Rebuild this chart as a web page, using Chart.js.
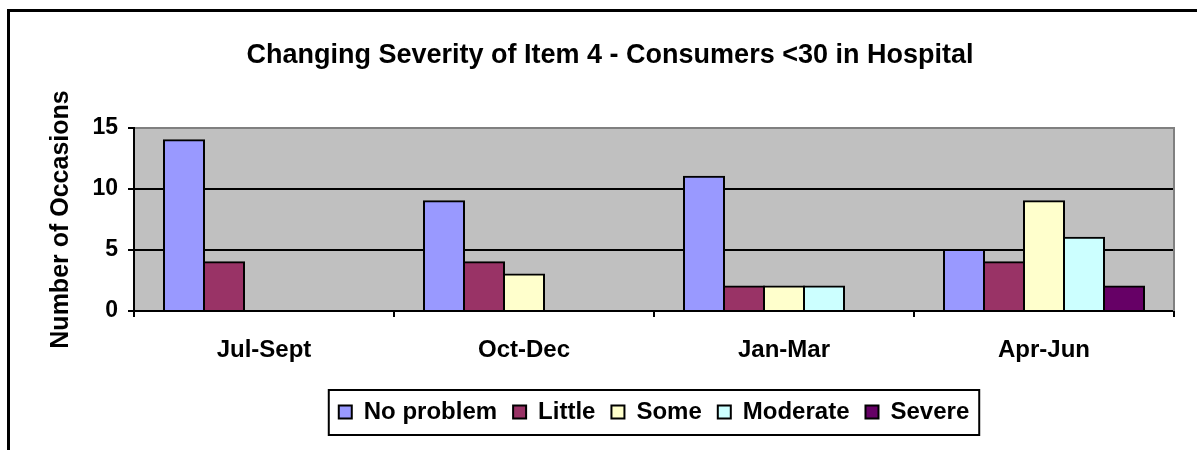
<!DOCTYPE html>
<html>
<head>
<meta charset="utf-8">
<script src="https://cdn.jsdelivr.net/npm/chart.js@4.4.1/dist/chart.umd.min.js"></script>
<style>
  html, body { margin: 0; padding: 0; background: #fff; }
  #wrap { width: 1197px; height: 450px; position: relative; }
</style>
</head>
<body>
<div id="wrap"><canvas id="myChart" width="1197" height="450"></canvas></div>
<script>
const quarters = ["Jul-Sept", "Oct-Dec", "Jan-Mar", "Apr-Jun"];
const noProblem = [14, 9, 11, 5];
const little = [4, 4, 2, 4];
const some = [0, 3, 2, 9];
const moderate = [0, 0, 2, 6];
const severe = [0, 0, 0, 2];
const yTicks = [0, 5, 10, 15];

const FONT = "'Liberation Sans', Arial, sans-serif";

function series(label, values, color) {
  return {
    label: label,
    data: values,
    backgroundColor: color,
    borderColor: "#000",
    borderWidth: 2,
    inflateAmount: 1,
    categoryPercentage: 200 / 260,
    barPercentage: 1
  };
}

// grey plot area, grey right edge, outer frame, legend frame
const excelLook = {
  id: "excelLook",
  beforeDraw(chart) {
    const {ctx, chartArea: a} = chart;
    ctx.save();
    ctx.fillStyle = "#C0C0C0";
    ctx.fillRect(a.left, a.top, a.right - a.left, a.bottom - a.top);
    ctx.restore();
  },
  beforeDatasetsDraw(chart) {
    const {ctx, chartArea: a} = chart;
    ctx.save();
    ctx.strokeStyle = "#808080";
    ctx.lineWidth = 2;
    ctx.beginPath();
    ctx.moveTo(a.right, a.top - 1);
    ctx.lineTo(a.right, a.bottom);
    ctx.stroke();
    ctx.restore();
  },
  afterDraw(chart) {
    const ctx = chart.ctx;
    ctx.save();
    ctx.strokeStyle = "#000";
    ctx.lineWidth = 3;
    ctx.strokeRect(8.5, 10.5, 1300, 600);
    const hb = chart.legend.legendHitBoxes;
    if (hb && hb.length) {
      const first = hb[0], last = hb[hb.length - 1];
      const cy = first.top + first.height / 2;
      ctx.lineWidth = 2;
      ctx.strokeRect(first.left - 10, cy - 22, (last.left + last.width + 10) - (first.left - 10), 45);
    }
    ctx.restore();
  }
};

new Chart(document.getElementById("myChart"), {
  type: "bar",
  data: {
    labels: quarters,
    datasets: [
      series("No problem", noProblem, "#9999FF"),
      series("Little", little, "#993366"),
      series("Some", some, "#FFFFCC"),
      series("Moderate", moderate, "#CCFFFF"),
      series("Severe", severe, "#660066")
    ]
  },
  options: {
    responsive: false,
    animation: false,
    layout: { padding: { left: 46, right: 23, top: 0, bottom: 16 } },
    plugins: {
      title: {
        display: true,
        text: "Changing Severity of Item 4 - Consumers <30 in Hospital",
        color: "#000",
        font: { family: FONT, size: 27, weight: "bold" },
        padding: { top: 39, bottom: 56.6 }
      },
      legend: {
        position: "bottom",
        fullSize: false,
        labels: {
          color: "#000",
          font: { family: FONT, size: 24, weight: "bold" },
          boxWidth: 13,
          boxHeight: 13,
          padding: 16
        }
      },
      tooltip: { enabled: false }
    },
    scales: {
      x: {
        z: 1,
        grid: {
          drawOnChartArea: false,
          drawTicks: true,
          tickLength: 6,
          tickColor: "#000",
          lineWidth: 2
        },
        border: { display: true, color: "#000", width: 2 },
        ticks: {
          color: "#000",
          padding: 19,
          font: { family: FONT, size: 24, weight: "bold" }
        },
        afterFit(scale) { scale.height = 73; }
      },
      y: {
        min: 0,
        max: 15,
        afterBuildTicks(scale) { scale.ticks = yTicks.map(v => ({ value: v })); },
        grid: {
          color: c => (c.tick && c.tick.value === 15 ? "#808080" : "#000"),
          lineWidth: 2,
          tickLength: 6,
          tickColor: "#000"
        },
        border: { display: true, color: "#000", width: 2 },
        ticks: {
          color: "#000",
          padding: 10,
          font: { family: FONT, size: 23, weight: "bold" }
        },
        title: {
          display: true,
          text: "Number of Occasions",
          color: "#000",
          font: { family: FONT, size: 25, weight: "bold" },
          padding: 0
        },
        afterFit(scale) { scale.width = 88; }
      }
    }
  },
  plugins: [excelLook]
});
</script>
</body>
</html>
